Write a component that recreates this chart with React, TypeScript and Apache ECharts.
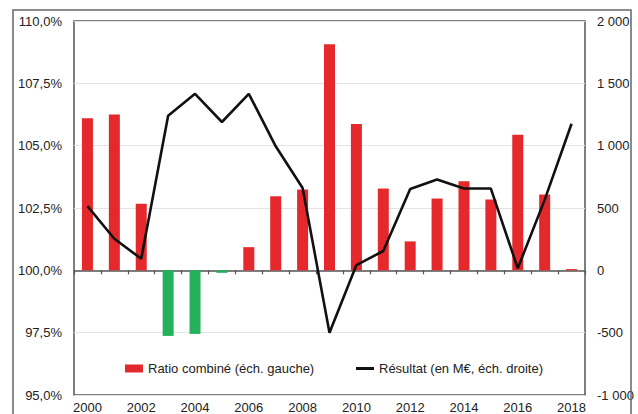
import React, { useEffect, useRef } from "react";
import * as echarts from "echarts";

// Years on the category axis
const years: string[] = [
  "2000", "2001", "2002", "2003", "2004", "2005", "2006", "2007", "2008", "2009",
  "2010", "2011", "2012", "2013", "2014", "2015", "2016", "2017", "2018",
];

// Combined ratio, in percent (left scale)
const ratioCombine: number[] = [
  106.1, 106.25, 102.67, 97.37, 97.45, 99.9, 100.93, 102.97, 103.24, 109.07,
  105.87, 103.28, 101.16, 102.88, 103.57, 102.84, 105.44, 103.04, 100.05,
];

// Net result, in M€ (right scale)
const resultat: number[] = [
  515, 253, 93, 1240, 1416, 1190, 1416, 995, 660, -500,
  42, 155, 653, 728, 656, 656, 16, 565, 1176,
];

// Left-scale tick range, expressed around the 100 % baseline
const ratioBase = 100;
const ratioMin = 95;
const ratioMax = 110;
const ratioStep = 2.5;

// Right-scale tick range
const resMin = -1000;
const resMax = 2000;
const resStep = 500;

const RED = "#e4282b";
const GREEN = "#23b25b";
const LINE = "#111111";
const TEXT = "#222222";
const FONT = "'Liberation Sans', Arial, sans-serif";

const fmtPct = (v: number) =>
  (v + ratioBase).toFixed(1).replace(".", ",") + "%";

const fmtThousands = (v: number) => {
  const s = Math.abs(v).toString().replace(/\B(?=(\d{3})+(?!\d))/g, " ");
  return (v < 0 ? "-" : "") + s;
};

export default function App() {
  const ref = useRef<HTMLDivElement>(null);

  useEffect(() => {
    if (!ref.current) return;
    const chart = echarts.init(ref.current, null, { renderer: "svg" });

    const barData = ratioCombine.map((r) => ({
      value: +(r - ratioBase).toFixed(4),
      itemStyle: { color: r >= ratioBase ? RED : GREEN },
    }));

    chart.setOption({
      animation: false,
      backgroundColor: "#ffffff",
      textStyle: { fontFamily: FONT },
      grid: {
        left: 74,
        right: 53,
        top: 21,
        bottom: 18,
        show: true,
        borderColor: "#555555",
        borderWidth: 1.5,
        backgroundColor: "transparent",
      },
      legend: [
        {
          data: ["Ratio combiné (éch. gauche)"],
          left: 120,
          top: 357,
          itemWidth: 18,
          itemHeight: 8,
          icon: "rect",
          textStyle: { fontSize: 13, color: TEXT, fontFamily: FONT },
        },
        {
          data: ["Résultat (en M€, éch. droite)"],
          left: 351,
          top: 357,
          itemWidth: 18,
          itemHeight: 3,
          icon: "rect",
          itemStyle: { color: LINE },
          textStyle: { fontSize: 13, color: TEXT, fontFamily: FONT },
        },
      ],
      xAxis: [
        {
          type: "category",
          data: years,
          position: "bottom",
          boundaryGap: true,
          axisLine: {
            show: true,
            onZero: true,
            onZeroAxisIndex: 0,
            lineStyle: { color: "#555555", width: 1.5 },
          },
          axisTick: {
            show: true,
            interval: 0,
            length: 4,
            lineStyle: { color: "#555555", width: 1.2 },
          },
          axisLabel: { show: false },
          splitLine: { show: false },
        },
        {
          type: "category",
          data: years,
          position: "bottom",
          boundaryGap: true,
          axisLine: { show: false, onZero: false },
          axisTick: { show: false },
          axisLabel: {
            interval: 1,
            margin: 6,
            fontSize: 13,
            color: TEXT,
            fontFamily: FONT,
          },
          splitLine: { show: false },
        },
      ],
      yAxis: [
        {
          type: "value",
          min: ratioMin - ratioBase,
          max: ratioMax - ratioBase,
          interval: ratioStep,
          position: "left",
          axisLine: { show: false },
          axisTick: { show: false },
          axisLabel: {
            formatter: fmtPct,
            margin: 12,
            fontSize: 13,
            color: TEXT,
            fontFamily: FONT,
          },
          splitLine: { lineStyle: { color: "#e4e4e4", width: 1 } },
        },
        {
          type: "value",
          min: resMin,
          max: resMax,
          interval: resStep,
          position: "right",
          axisLine: { show: false },
          axisTick: { show: false },
          axisLabel: {
            formatter: fmtThousands,
            margin: 12,
            fontSize: 13,
            color: TEXT,
            fontFamily: FONT,
          },
          splitLine: { show: false },
        },
      ],
      series: [
        {
          name: "Ratio combiné (éch. gauche)",
          type: "bar",
          xAxisIndex: 0,
          yAxisIndex: 0,
          barWidth: 11,
          data: barData,
          itemStyle: { color: RED },
        },
        {
          name: "Résultat (en M€, éch. droite)",
          type: "line",
          xAxisIndex: 0,
          yAxisIndex: 1,
          data: resultat,
          symbol: "none",
          lineStyle: { color: LINE, width: 2.6 },
          itemStyle: { color: LINE },
          z: 5,
        },
      ],
      graphic: [
        {
          type: "rect",
          z: 100,
          silent: true,
          shape: { x: 13, y: 10, width: 618, height: 420 },
          style: { fill: "none", stroke: "#666666", lineWidth: 1.5 },
        },
      ],
    });

    return () => chart.dispose();
  }, []);

  return (
    <div
      ref={ref}
      style={{ position: "absolute", left: 0, top: 0, width: 638, height: 414 }}
    />
  );
}
